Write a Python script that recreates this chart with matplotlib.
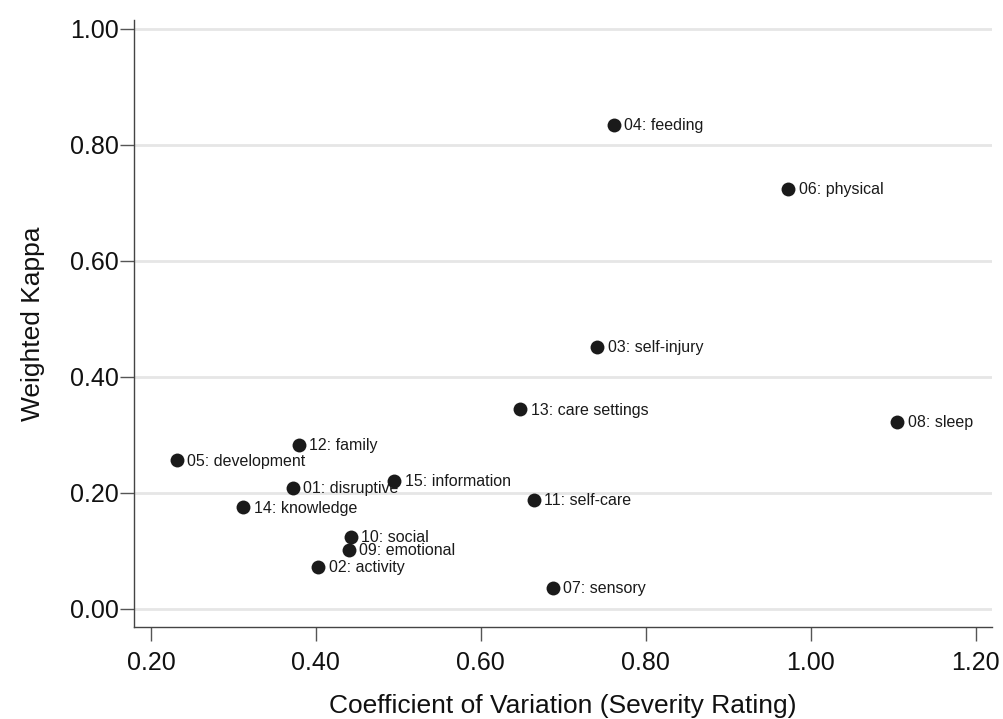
import matplotlib
matplotlib.use("Agg")
import matplotlib.pyplot as plt

plt.rcParams['font.family'] = ['Liberation Sans', 'DejaVu Sans']

# Domain labels and their coordinates
domains = ["01: disruptive", "02: activity", "03: self-injury", "04: feeding",
           "05: development", "06: physical", "07: sensory", "08: sleep",
           "09: emotional", "10: social", "11: self-care", "12: family",
           "13: care settings", "14: knowledge", "15: information"]
cv_severity = [0.372, 0.403, 0.741, 0.761, 0.231, 0.973, 0.687, 1.105,
               0.440, 0.442, 0.664, 0.379, 0.648, 0.312, 0.495]
weighted_kappa = [0.208, 0.073, 0.452, 0.834, 0.256, 0.724, 0.036, 0.323,
                  0.102, 0.124, 0.188, 0.283, 0.344, 0.175, 0.221]

x_ticks = [0.20, 0.40, 0.60, 0.80, 1.00, 1.20]
y_ticks = [0.00, 0.20, 0.40, 0.60, 0.80, 1.00]

fig = plt.figure(figsize=(10.04, 7.19), dpi=100)
ax = fig.add_axes([0.1335, 0.128, 0.8546, 0.8435])

ax.scatter(cv_severity, weighted_kappa, s=100, color="#1a1a1a", zorder=3,
           linewidths=0)
for name, xv, yv in zip(domains, cv_severity, weighted_kappa):
    ax.annotate(name, (xv, yv), xytext=(7.5, -0.5), textcoords="offset points",
                ha="left", va="center", fontsize=11.5, color="#1a1a1a", zorder=4)

ax.set_xlim(0.1794, 1.220)
ax.set_ylim(-0.031, 1.014)
ax.set_xticks(x_ticks)
ax.set_yticks(y_ticks)
ax.set_xticklabels([f"{v:.2f}" for v in x_ticks])
ax.set_yticklabels([f"{v:.2f}" for v in y_ticks])
ax.tick_params(axis="both", labelsize=18, length=10, width=1, color="#555555",
               labelcolor="#111111", pad=1)
ax.tick_params(axis="x", pad=7)

ax.yaxis.grid(True, color="#e6e6e6", linewidth=2.0, zorder=0)
ax.xaxis.grid(False)
ax.set_axisbelow(True)

for side in ("top", "right"):
    ax.spines[side].set_visible(False)
for side in ("left", "bottom"):
    ax.spines[side].set_color("#444444")
    ax.spines[side].set_linewidth(1.0)

ax.set_xlabel("Coefficient of Variation (Severity Rating)", fontsize=19,
              color="#111111", labelpad=14)
ax.set_ylabel("Weighted Kappa", fontsize=19, color="#111111", labelpad=18)

fig.savefig("out.png", dpi=100)
